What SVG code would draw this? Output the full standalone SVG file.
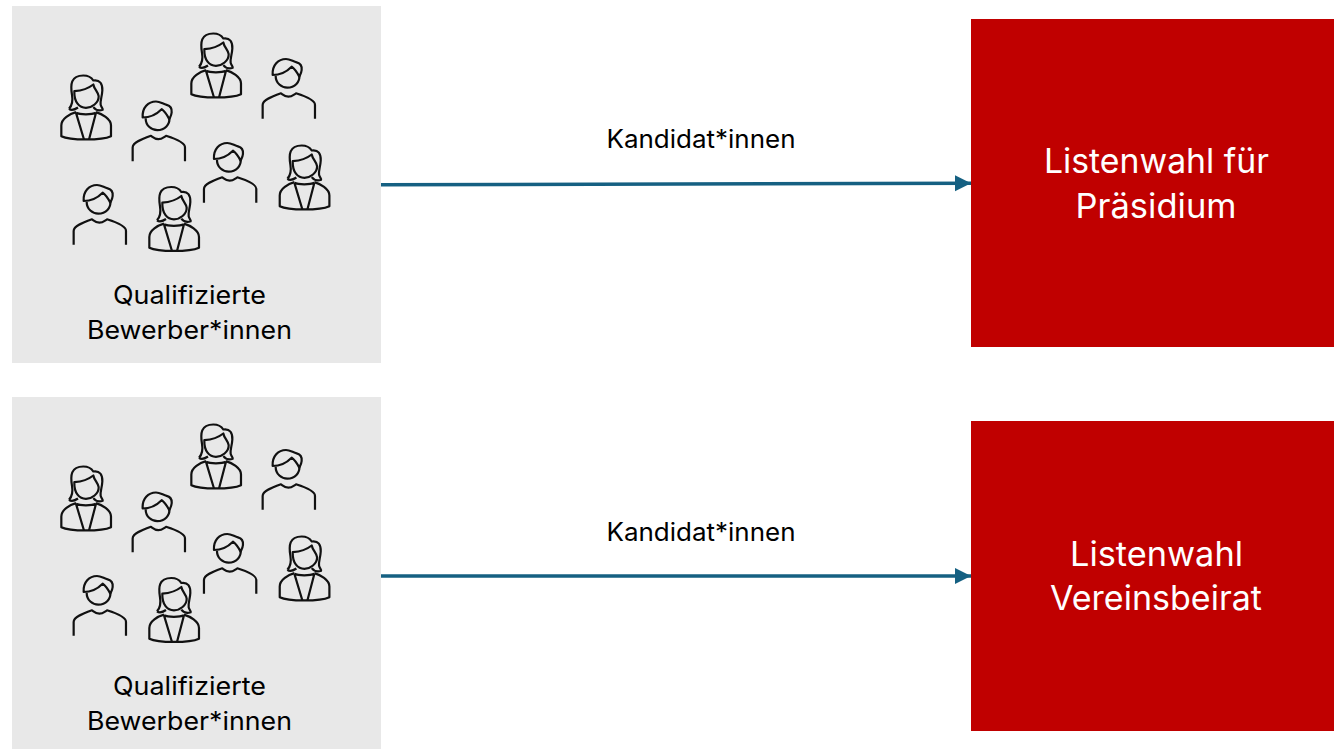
<svg xmlns="http://www.w3.org/2000/svg" xmlns:xlink="http://www.w3.org/1999/xlink" width="1334" height="749" viewBox="0 0 1334 749">
<style>
.pool{fill:#e8e8e8}
.target{fill:#c00000}
.ico{fill:none;stroke:#111;stroke-width:6.600;stroke-linejoin:round;stroke-linecap:butt}
.t{font-family:Inter,"Noto Sans",sans-serif;text-anchor:middle;fill:#000}
.l{font-size:25px}
.h{font-size:33.500px;fill:#fff}
.c{fill:none;stroke:#156082;stroke-width:3.500}
</style>
<defs>
<marker id="ah" markerUnits="userSpaceOnUse" markerWidth="18" markerHeight="18" refX="16" refY="8" orient="auto"><path d="M0 0L16 8L0 16z" fill="#156082"/></marker>
<g id="woman" class="ico" transform="scale(.3333)">
<path d="M57 250C66 240 69 225 66 208C61 178 62 150 100 150C115 150 125 157 130 165C150 162 158 175 157 195C156 215 150 225 152 238C154 246 160 250 158 253C150 256 138 255 130 245M57 250C62 254 72 254 84 246"/>
<path d="M73 197C100 195 120 185 130 177C132 190 145 200 146 212C147 232 125 247 108 247C88 247 72 230 73 197Z"/>
<path d="M78 260C60 265 34 280 34 300L34 332C60 345 155 345 183 332L183 300C183 280 155 265 138 260"/>
<path d="M78 262C90 268 125 268 138 262M78 262L102 342M138 262L117 342"/>
</g>
<g id="man" class="ico" transform="scale(.3333)">
<path d="M287 152C287 175 305 188 322 188C345 188 360 170 358 152"/>
<path d="M278 150C276 120 295 102 318 102C330 102 340 110 350 112C362 115 366 125 365 135C364 145 360 150 358 155C350 140 342 130 335 125C320 140 300 150 278 150Z"/>
<path d="M248 281L248 240C248 225 275 215 303 205C310 210 315 215 325 215C335 215 340 210 348 205C370 212 406 225 405 240L405 281"/>
</g>
<g id="people">
<use href="#woman" transform="translate(50 25.500)"/>
<use href="#woman" transform="translate(180 -16.500)"/>
<use href="#woman" transform="translate(268.400 95.500)"/>
<use href="#woman" transform="translate(138 137)"/>
<use href="#man" transform="translate(180 25)"/>
<use href="#man" transform="translate(50 67.500)"/>
<use href="#man" transform="translate(121.300 109)"/>
<use href="#man" transform="translate(-9 151)"/>
</g>
</defs>
<rect width="1334" height="749" fill="#fff"/>
<g id="connectors">
<path class="c" d="M381 184.700L971 183.300" marker-end="url(#ah)"/>
<path class="c" d="M381 576H971" marker-end="url(#ah)"/>
<text class="t l" x="701" y="148" textLength="189" lengthAdjust="spacingAndGlyphs">Kandidat*innen</text>
<text class="t l" x="701" y="541" textLength="189" lengthAdjust="spacingAndGlyphs">Kandidat*innen</text>
</g>
<g id="pool-1">
<rect class="pool" x="12" y="6" width="369" height="357"/>
<use href="#people"/>
<text class="t l" x="189.500" y="304" textLength="153" lengthAdjust="spacingAndGlyphs">Qualifizierte</text>
<text class="t l" x="189.500" y="339" textLength="205" lengthAdjust="spacingAndGlyphs">Bewerber*innen</text>
</g>
<g id="pool-2">
<rect class="pool" x="12" y="397" width="369" height="352"/>
<use href="#people" y="391"/>
<text class="t l" x="189.500" y="695" textLength="153" lengthAdjust="spacingAndGlyphs">Qualifizierte</text>
<text class="t l" x="189.500" y="730" textLength="205" lengthAdjust="spacingAndGlyphs">Bewerber*innen</text>
</g>
<g id="praesidium">
<rect class="target" x="971" y="19" width="363" height="328"/>
<text class="t h" x="1156.500" y="172.500" textLength="225" lengthAdjust="spacingAndGlyphs">Listenwahl für</text>
<text class="t h" x="1156" y="217.500" textLength="161" lengthAdjust="spacingAndGlyphs">Präsidium</text>
</g>
<g id="vereinsbeirat">
<rect class="target" x="971" y="421" width="363" height="310"/>
<text class="t h" x="1156.500" y="565.500" textLength="173" lengthAdjust="spacingAndGlyphs">Listenwahl</text>
<text class="t h" x="1156" y="609.500" textLength="212" lengthAdjust="spacingAndGlyphs">Vereinsbeirat</text>
</g>
</svg>
